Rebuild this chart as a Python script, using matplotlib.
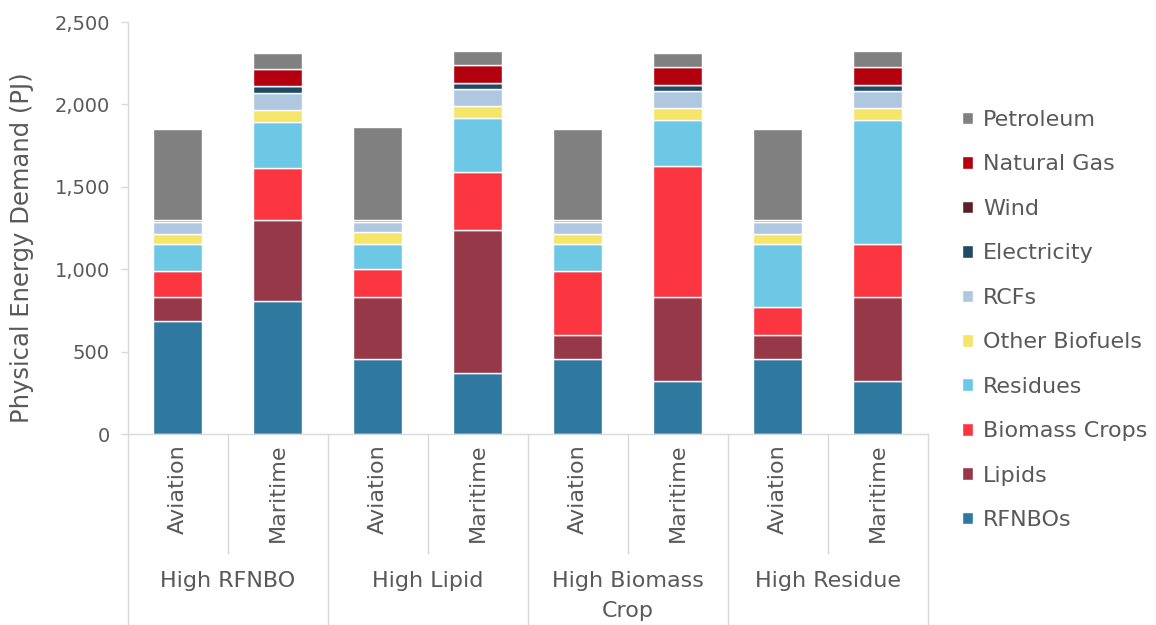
import matplotlib.pyplot as plt
import numpy as np

plt.rcParams['font.family'] = ['DejaVu Sans']

# scenarios and sectors along the x axis
groups = ["High RFNBO", "High Lipid", "High Biomass\nCrop", "High Residue"]
sectors = ["Aviation", "Maritime"]

# physical energy demand by source (PJ), one value per bar
rfnbos = [686, 807, 455, 372, 455, 324, 455, 324]
lipids = [146, 492, 377, 868, 146, 506, 146, 506]
biomass_crops = [156, 314, 168, 350, 387, 797, 170, 325]
residues = [167, 280, 155, 325, 167, 276, 384, 748]
other_biofuels = [61, 71, 73, 74, 61, 74, 61, 74]
rcfs = [72, 108, 60, 105, 72, 107, 72, 107]
electricity = [10, 37, 10, 38, 10, 36, 10, 36]
wind = [0, 0, 0, 0, 0, 0, 0, 0]
natural_gas = [0, 105, 0, 108, 0, 109, 0, 109]
petroleum = [553, 97, 565, 85, 553, 82, 553, 96]

series = [
    ("RFNBOs", rfnbos, "#2f789f"),
    ("Lipids", lipids, "#973849"),
    ("Biomass Crops", biomass_crops, "#fc3641"),
    ("Residues", residues, "#6dc8e5"),
    ("Other Biofuels", other_biofuels, "#f5e669"),
    ("RCFs", rcfs, "#afc7df"),
    ("Electricity", electricity, "#204a63"),
    ("Wind", wind, "#5b1f2a"),
    ("Natural Gas", natural_gas, "#b2000f"),
    ("Petroleum", petroleum, "#808080"),
]

txt = "#595959"
line_c = "#d9d9d9"

fig = plt.figure(figsize=(11.56, 6.25), dpi=100)
ax = fig.add_axes([0.1107, 0.3056, 0.692, 0.6592])

x = np.arange(len(rfnbos))
bottom = np.zeros(len(rfnbos))
handles = []
for name, vals, col in series:
    b = ax.bar(x, vals, 0.49, bottom=bottom, color=col,
               edgecolor="white", linewidth=1, label=name)
    handles.append(b)
    bottom += np.array(vals)

ax.set_xlim(-0.5, len(rfnbos) - 0.5)
ax.set_ylim(0, 2500)
ax.set_yticks(np.arange(0, 2501, 500))
ax.set_yticklabels([f"{v:,}" for v in range(0, 2501, 500)])
ax.tick_params(axis="y", colors=line_c, labelcolor=txt, labelsize=14,
               length=5, width=1, direction="out", pad=8)
ax.set_xticks([])
for s in ["top", "right"]:
    ax.spines[s].set_visible(False)
for s in ["left", "bottom"]:
    ax.spines[s].set_color(line_c)
    ax.spines[s].set_linewidth(1)

fig.text(22 / 1156, 1 - 248 / 625, "Physical Energy Demand (PJ)",
         rotation=90, ha="center", va="center", color=txt, fontsize=17.5)

# two-level category axis drawn below the plot
trans = ax.get_xaxis_transform()
fig_h = 625.0
ax_h = 0.6592 * fig_h
y0 = 434.0

def yax(py):
    # pixel row (from top) -> axes fraction
    return (y0 - py) / ax_h

for i in range(len(rfnbos)):
    ax.text(i, yax(444), sectors[i % 2], rotation=90, ha="center", va="top",
            color=txt, fontsize=16, transform=trans, clip_on=False)

for k in range(len(groups) + 1):
    xp = 2 * k - 0.5
    ax.plot([xp, xp], [0, yax(625)], color=line_c, lw=1,
            transform=trans, clip_on=False)
for k in range(len(groups)):
    xp = 2 * k + 0.5
    ax.plot([xp, xp], [0, yax(553)], color=line_c, lw=1,
            transform=trans, clip_on=False)
    ax.text(2 * k + 0.5, yax(571), groups[k], ha="center", va="top",
            color=txt, fontsize=16, transform=trans, clip_on=False,
            linespacing=1.65)

leg = fig.legend(handles[::-1], [s[0] for s in series][::-1],
                 loc="upper left", bbox_to_anchor=(962 / 1156, 1 - 110 / 625),
                 frameon=False, fontsize=16, labelcolor=txt,
                 handlelength=0.5, handleheight=0.5, handletextpad=0.45,
                 labelspacing=1.1, borderaxespad=0, borderpad=0)

fig.savefig("out.png", dpi=100)
